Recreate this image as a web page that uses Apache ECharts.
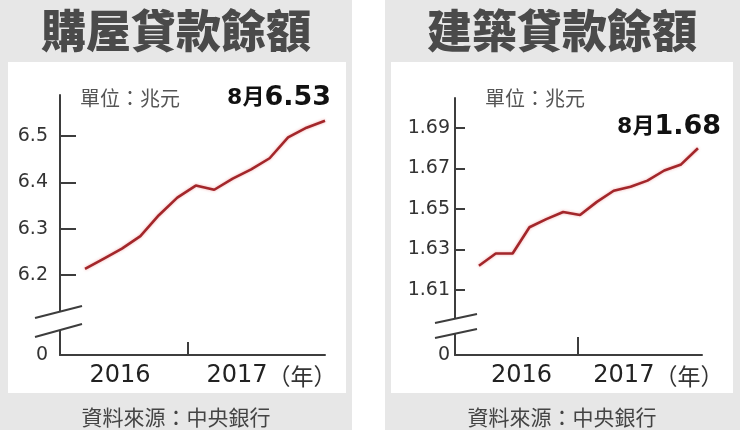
<!DOCTYPE html>
<html><head><meta charset="utf-8">
<script src="https://cdn.jsdelivr.net/npm/echarts@6/dist/echarts.min.js"></script>
<style>
html,body{margin:0;padding:0;background:#fff;}
#wrap{position:relative;width:740px;height:430px;overflow:hidden;}
.panel{position:absolute;background:#e7e7e7;}
.inner{position:absolute;background:#fff;}
#chart{position:absolute;left:0;top:0;width:740px;height:430px;}
</style></head><body>
<div id="wrap">
<div class="panel" style="left:0;top:0;width:352px;height:430px"></div>
<div class="inner" style="left:8px;top:62px;width:338px;height:331px"></div>
<div class="panel" style="left:385px;top:0;width:355px;height:430px"></div>
<div class="inner" style="left:391px;top:62px;width:342px;height:331px"></div>
<div id="chart"></div>
</div>
<script>
// ---- data ----
const months = ['2016/07','2016/08','2016/09','2016/10','2016/11','2016/12','2017/01','2017/02','2017/03','2017/04','2017/05','2017/06','2017/07','2017/08'];
const housingLoans = [6.213, 6.235, 6.257, 6.284, 6.329, 6.367, 6.393, 6.384, 6.408, 6.428, 6.452, 6.497, 6.518, 6.533];
const constructionLoans = [1.622, 1.628, 1.628, 1.641, 1.645, 1.6485, 1.647, 1.6535, 1.659, 1.661, 1.664, 1.669, 1.672, 1.680];
const housingTicks = [6.2, 6.3, 6.4, 6.5];
const constructionTicks = [1.61, 1.63, 1.65, 1.67, 1.69];
const yearLabels = ['2016', '2017'];
const yearUnit = '（年）';
const housingYearPos = [1.9, 10.1];
const constructionYearPos = [2.53, 10.65];
const housingYearTick = [5.58];
const constructionYearTick = [5.88];
const titles = ['購屋貸款餘額', '建築貸款餘額'];
const unitText = '單位：兆元';
const sourceText = '資料來源：中央銀行';
const lastMonthLabel = '8月';

// ---- styles ----
const AX = '#3d3d3d';
const LINE = '#a3262a';
const NUMF = '"DejaVu Sans", "Liberation Sans", sans-serif';
const CJKF = '"Noto Sans CJK TC", "Noto Sans CJK SC", sans-serif';

function xAxisCfg(gridIndex, min, max, tickPos, labelPos, tickLen) {
  return {
    type: 'value', gridIndex, min, max,
    splitLine: {show: false},
    axisLine: {show: true, onZero: false, lineStyle: {color: AX, width: 2}},
    axisTick: {show: true, inside: true, length: tickLen, customValues: tickPos, lineStyle: {color: AX, width: 2}},
    axisLabel: {
      customValues: labelPos, margin: 9,
      formatter: function (v) {
        let idx = 0, best = 1e9;
        labelPos.forEach((p, i) => { if (Math.abs(p - v) < best) { best = Math.abs(p - v); idx = i; } });
        return idx === labelPos.length - 1 ? '{y|' + yearLabels[idx] + '}{u|' + yearUnit + '}' : '{y|' + yearLabels[idx] + '}';
      },
      rich: {
        y: {fontFamily: NUMF, fontSize: 24, color: '#222'},
        u: {fontFamily: CJKF, fontSize: 23, color: '#333'}
      }
    }
  };
}
function yAxisCfg(gridIndex, min, max, ticks, decimals, margin, tickLen) {
  return {
    type: 'value', gridIndex, min, max,
    splitLine: {show: false},
    axisLine: {show: true, onZero: false, lineStyle: {color: AX, width: 2}},
    axisTick: {show: true, inside: true, length: tickLen, customValues: ticks, lineStyle: {color: AX, width: 2}},
    axisLabel: {
      customValues: [min].concat(ticks), showMinLabel: true, margin,
      formatter: v => Math.abs(v - min) < 1e-6 ? '0' : v.toFixed(decimals),
      color: '#333', fontSize: 19, fontFamily: NUMF
    }
  };
}

const chart = echarts.init(document.getElementById('chart'), null, {renderer: 'canvas'});

function txt(text, x, y, font, fill, align) {
  return {type: 'text', z: 100, style: {text, x, y, font, fill, textAlign: align || 'center', textVerticalAlign: 'middle'}};
}
function richTxt(x, y, value) {
  return {type: 'text', z: 100, style: {
    text: '{a|' + lastMonthLabel + '}{b|' + value.toFixed(2) + '}',
    x, y, textAlign: 'right', textVerticalAlign: 'middle',
    rich: {
      a: {fontFamily: NUMF + ',' + CJKF, fontWeight: 'bold', fontSize: 22, fill: '#111', color: '#111', lineHeight: 30},
      b: {fontFamily: NUMF, fontWeight: 'bold', fontSize: 27, fill: '#111', color: '#111', lineHeight: 30}
    }
  }};
}
function breakMark(ax, y1, y2, lines) {
  const els = [{type: 'rect', z: 100, shape: {x: ax - 4, y: y1, width: 8, height: y2 - y1}, style: {fill: '#fff'}}];
  lines.forEach(l => els.push({type: 'line', z: 101, shape: {x1: l[0], y1: l[1], x2: l[2], y2: l[3]}, style: {stroke: AX, lineWidth: 2}}));
  return els;
}

const lineStyle = {color: LINE, width: 2.6, shadowColor: 'rgba(225,70,70,0.45)', shadowBlur: 3};

const option = {
  animation: false,
  grid: [
    {left: 60, top: 95, width: 265, height: 260},
    {left: 455, top: 98, width: 247, height: 257}
  ],
  xAxis: [
    xAxisCfg(0, -1.354, 13, housingYearTick, housingYearPos, 13),
    xAxisCfg(1, -1.42, 13.24, constructionYearTick, constructionYearPos, 18)
  ],
  yAxis: [
    yAxisCfg(0, 6.0273, 6.5885, housingTicks, 1, 12, 16),
    yAxisCfg(1, 1.5779, 1.7048, constructionTicks, 2, 5, 10)
  ],
  series: [
    {type: 'line', name: titles[0], xAxisIndex: 0, yAxisIndex: 0, symbol: 'none',
     data: housingLoans.map((v, i) => [i, v]), lineStyle: lineStyle},
    {type: 'line', name: titles[1], xAxisIndex: 1, yAxisIndex: 1, symbol: 'none',
     data: constructionLoans.map((v, i) => [i, v]), lineStyle: lineStyle}
  ],
  graphic: {elements: [
    txt(titles[0], 176, 31, '900 45px ' + CJKF, '#4a4a4a'),
    txt(titles[1], 562, 31, '900 45px ' + CJKF, '#4a4a4a'),
    txt(unitText, 130, 98, '20px ' + CJKF, '#555'),
    txt(unitText, 535, 98, '20px ' + CJKF, '#555'),
    richTxt(331, 98, housingLoans[housingLoans.length - 1]),
    richTxt(721, 127, constructionLoans[constructionLoans.length - 1]),
    txt(sourceText, 176, 417, '21px ' + CJKF, '#444'),
    txt(sourceText, 562, 417, '21px ' + CJKF, '#444')
  ].concat(
    breakMark(60, 312, 330, [[35, 318, 82, 306], [35, 337, 82, 324]]),
    breakMark(455, 319, 333, [[435, 323, 477, 314], [435, 338, 477, 329]])
  )}
};
chart.setOption(option);
</script>
</body></html>
